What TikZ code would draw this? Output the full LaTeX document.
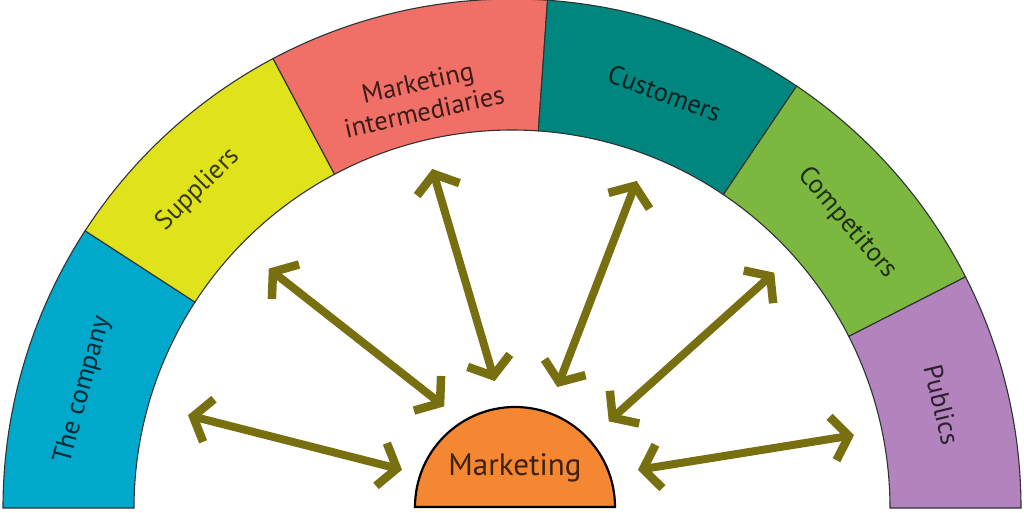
\documentclass[tikz,border=0pt]{standalone}
\usepackage{fontspec}
\setmainfont{PT Sans}
\usetikzlibrary{arrows.meta}
\definecolor{cCompany}{HTML}{00A8CC}
\definecolor{cSupp}{HTML}{E0E31B}
\definecolor{cMI}{HTML}{F07067}
\definecolor{cCust}{HTML}{00867E}
\definecolor{cComp}{HTML}{7CB83F}
\definecolor{cPub}{HTML}{B283BC}
\definecolor{cMkt}{HTML}{F58733}
\definecolor{cArrow}{HTML}{787010}
\definecolor{cEdge}{HTML}{2E3333}
\tikzset{
  seg/.style={draw=cEdge, line width=1.1pt},
  lbl/.style={font=\fontsize{26.5}{28}\selectfont, text=black, text opacity=0.75, align=center, inner sep=0pt},
  tipb/.tip={Straight Barb[length=16pt,width=44pt,line width=8.5pt]},
  arr/.style={draw=cArrow, line width=8pt, tipb-tipb, shorten <=1pt, shorten >=1pt},
}
\newcommand{\ringseg}[3]{%
  \path[seg, fill=#3] ([shift={(#1:509)}]C) arc[start angle=#1, end angle=#2, radius=509]
     -- ([shift={(#2:378)}]C) arc[start angle=#2, end angle=#1, radius=378] -- cycle;}
\begin{document}
\begin{tikzpicture}[x=1pt,y=1pt]
\useasboundingbox (0,0) rectangle (1024,512);
\coordinate (C) at (512,4);
\ringseg{180}{147}{cCompany}
\ringseg{147}{118}{cSupp}
\ringseg{118}{86}{cMI}
\ringseg{86}{56}{cCust}
\ringseg{56}{27}{cComp}
\ringseg{27}{0}{cPub}
\node[lbl, rotate=74.6] (company) at ([shift={(164.6:445)}]C) {The company};
\node[lbl, rotate=44.6] (suppliers) at ([shift={(134.6:447)}]C) {Suppliers};
\node[lbl, rotate=12.5, font=\fontsize{26.5}{30}\selectfont] (mi) at ([shift={(102.5:421)}]C) {Marketing\\intermediaries};
\node[lbl, rotate=-20.2] (customers) at ([shift={(69.8:442)}]C) {Customers};
\node[lbl, rotate=-49.6] (competitors) at ([shift={(40.4:440)}]C) {Competitors};
\node[lbl, rotate=-76.5] (publics) at ([shift={(13.5:442)}]C) {Publics};
\path[draw=black, line width=2.2pt, fill=cMkt] (415,5) arc[start angle=180, end angle=0, radius=100] -- cycle;
\node[lbl, font=\fontsize{31}{33}\selectfont] (marketing) at (515,44) {Marketing};
\coordinate (a1s) at (187,97);  \coordinate (a1e) at (403,42);
\coordinate (a2s) at (268,244); \coordinate (a2e) at (445,105);
\coordinate (a3s) at (432,344); \coordinate (a3e) at (495,130);
\coordinate (a4s) at (637,332); \coordinate (a4e) at (557,124);
\coordinate (a5s) at (775,240); \coordinate (a5e) at (608,90);
\coordinate (a6s) at (855,77);  \coordinate (a6e) at (637,42);
\draw[arr] (a1s) -- (a1e);
\draw[arr] (a2s) -- (a2e);
\draw[arr] (a3s) -- (a3e);
\draw[arr] (a4s) -- (a4e);
\draw[arr] (a5s) -- (a5e);
\draw[arr] (a6s) -- (a6e);
\end{tikzpicture}
\end{document}
